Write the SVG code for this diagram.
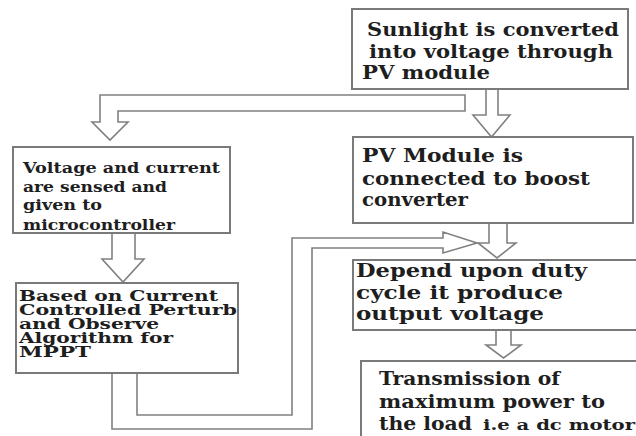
<svg xmlns="http://www.w3.org/2000/svg" width="636" height="436" viewBox="0 0 636 436">
<style>
.box{fill:#fff;stroke:#7a7a7a;stroke-width:2}
.arr{fill:#fff;stroke:#808080;stroke-width:1.6;stroke-linejoin:miter}
.t{font-family:"DejaVu Serif","Liberation Serif",serif;font-weight:bold;fill:#1e1e1e}
.l{font-size:18px}
.m{font-size:15.5px}
.s{font-size:14px}
</style>
<rect width="636" height="436" fill="#fff"/>
<g id="connectors">
<polygon class="arr" points="465,95 100,95 100,122 92,122 110,140 128,122 118,122 118,111 465,111"/>
<polygon class="arr" points="486,89 486,115 473,115 491.5,137 510,115 498,115 498,89"/>
<polygon class="arr" points="112,233 112,259 102,259 123,282 144,259 135,259 135,233"/>
<polygon class="arr" points="489,223 489,243 478,243 497,258 516,243 507,243 507,223"/>
<polygon class="arr" points="496,330 496,345 486,345 503.5,358 521,345 511,345 511,330"/>
<polygon class="arr" points="112,373 112,429 312,429 312,248 443,248 443,253 477,243 443,232 443,238 292,238 292,415 137,415 137,373"/>
</g>
<g id="n-sunlight">
<rect class="box" x="352" y="9" width="276" height="80"/>
<text class="t l"><tspan x="367" y="36" textLength="252" lengthAdjust="spacingAndGlyphs">Sunlight is converted</tspan><tspan x="369" y="58" textLength="244" lengthAdjust="spacingAndGlyphs">into voltage through</tspan><tspan x="362" y="79" textLength="128" lengthAdjust="spacingAndGlyphs">PV module</tspan></text>
</g>
<g id="n-sensed">
<rect class="box" x="13" y="147" width="217" height="86"/>
<text class="t m"><tspan x="23" y="173" textLength="197" lengthAdjust="spacingAndGlyphs">Voltage and current</tspan><tspan x="23" y="192" textLength="144" lengthAdjust="spacingAndGlyphs">are sensed and</tspan><tspan x="23" y="210" textLength="79" lengthAdjust="spacingAndGlyphs">given to</tspan><tspan x="23" y="230" textLength="152" lengthAdjust="spacingAndGlyphs">microcontroller</tspan></text>
</g>
<g id="n-pvmodule">
<rect class="box" x="353" y="137" width="280" height="86"/>
<text class="t l"><tspan x="362" y="162" textLength="161" lengthAdjust="spacingAndGlyphs">PV Module is</tspan><tspan x="362" y="185" textLength="228" lengthAdjust="spacingAndGlyphs">connected to boost</tspan><tspan x="362" y="206" textLength="106" lengthAdjust="spacingAndGlyphs">converter</tspan></text>
</g>
<g id="n-algorithm">
<rect class="box" x="16" y="283" width="222" height="90"/>
<text class="t s"><tspan x="19" y="301" textLength="199" lengthAdjust="spacingAndGlyphs">Based on Current</tspan><tspan x="19" y="315" textLength="218" lengthAdjust="spacingAndGlyphs">Controlled Perturb</tspan><tspan x="19" y="329" textLength="140" lengthAdjust="spacingAndGlyphs">and Observe</tspan><tspan x="19" y="343" textLength="154" lengthAdjust="spacingAndGlyphs">Algorithm for</tspan><tspan x="19" y="357" textLength="72" lengthAdjust="spacingAndGlyphs">MPPT</tspan></text>
</g>
<g id="n-depend">
<rect class="box" x="353" y="260" width="290" height="70"/>
<text class="t l"><tspan x="356" y="277" textLength="231" lengthAdjust="spacingAndGlyphs">Depend upon duty</tspan><tspan x="356" y="299" textLength="207" lengthAdjust="spacingAndGlyphs">cycle it produce</tspan><tspan x="356" y="320" textLength="188" lengthAdjust="spacingAndGlyphs">output voltage</tspan></text>
</g>
<g id="n-transmission">
<rect class="box" x="361" y="361" width="290" height="90"/>
<text class="t l"><tspan x="379" y="385" textLength="181" lengthAdjust="spacingAndGlyphs">Transmission of</tspan><tspan x="379" y="408" textLength="226" lengthAdjust="spacingAndGlyphs">maximum power to</tspan><tspan x="379" y="430" textLength="93" lengthAdjust="spacingAndGlyphs">the load</tspan></text>
<text class="t" font-size="15.5"><tspan x="483" y="430" textLength="152" lengthAdjust="spacingAndGlyphs">i.e a dc motor</tspan></text>
</g>
</svg>
